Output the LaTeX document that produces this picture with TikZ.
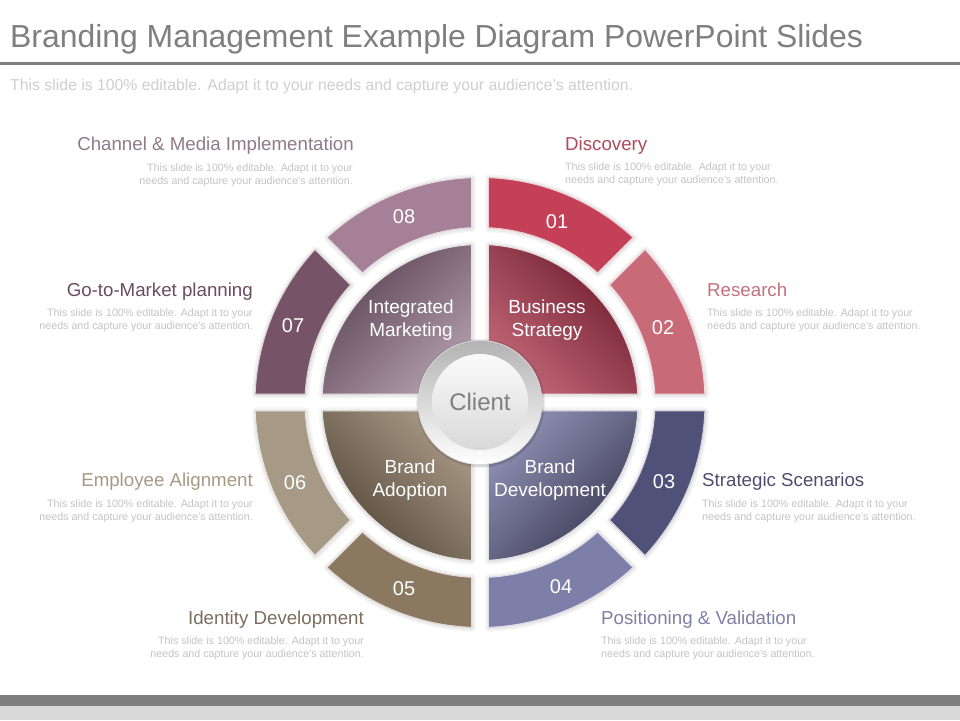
\documentclass[tikz,border=0pt]{standalone}
\usepackage{fontspec}
\setmainfont{Liberation Sans}
\definecolor{barDark}{HTML}{7F7F7F}
\definecolor{barLight}{HTML}{D9D9D9}
\definecolor{subGray}{HTML}{CFCFCF}
\definecolor{descGray}{HTML}{C4C4C4}
\definecolor{segA}{HTML}{C34057}
\definecolor{segB}{HTML}{C96A78}
\definecolor{segC}{HTML}{505179}
\definecolor{segD}{HTML}{7E7FA9}
\definecolor{segE}{HTML}{8A7860}
\definecolor{segF}{HTML}{A69A86}
\definecolor{segG}{HTML}{775367}
\definecolor{segH}{HTML}{A68096}
\definecolor{headA}{HTML}{AE4A5C}
\definecolor{headB}{HTML}{C4707E}
\definecolor{headC}{HTML}{4C4D70}
\definecolor{headD}{HTML}{7F80A6}
\definecolor{headE}{HTML}{7C6E5C}
\definecolor{headF}{HTML}{A69A86}
\definecolor{headG}{HTML}{6A4C5E}
\definecolor{headH}{HTML}{8F7A8A}
\tikzset{
  numlabel/.style={text=white,font=\fontsize{20}{24}\selectfont},
  midlabel/.style={text=white,align=center,font=\fontsize{19}{23}\selectfont},
  headlabel/.style={font=\fontsize{18.7}{22}\selectfont,inner sep=0pt},
  desclabel/.style={text=descGray,font=\fontsize{10.7}{13}\selectfont,inner sep=0pt},
}
% start angle, end angle, inner radius, outer radius, path options
\newcommand{\ringseg}[5]{
  \pgfmathsetmacro{\outA}{#1-asin(8.5/#4)}
  \pgfmathsetmacro{\outB}{#2+asin(8.5/#4)}
  \pgfmathsetmacro{\inA}{#1-asin(8.5/#3)}
  \pgfmathsetmacro{\inB}{#2+asin(8.5/#3)}
  \foreach \Wd in {8,5,2}
  \draw[black,opacity=0.035,line width=\Wd pt,line join=round,shift={(480.5,317)}]
    (\outA:#4) arc[start angle=\outA,end angle=\outB,radius=#4]
    -- (\inB:#3) arc[start angle=\inB,end angle=\inA,radius=#3] -- cycle;
  \path[line width=0.9pt,line join=round,shift={(480,317.5)},#5]
    (\outA:#4) arc[start angle=\outA,end angle=\outB,radius=#4]
    -- (\inB:#3) arc[start angle=\inB,end angle=\inA,radius=#3] -- cycle;
}
\newcommand{\quadseg}[5]{ % start angle, end angle, shading angle, light, dark
  \ringseg{#1}{#2}{13}{158}{draw=white!85!#5,bottom color=#4,top color=#5,shading angle=#3}
}
\begin{document}
\begin{tikzpicture}[x=1pt,y=1pt]
  \useasboundingbox (0,0) rectangle (960,720);
  \fill[white] (0,0) rectangle (960,720);

  % header and footer
  \node[anchor=base west,inner sep=0pt,text=barDark,font=\fontsize{31.9}{36}\selectfont] (title) at (10,672)
    {Branding Management Example Diagram PowerPoint Slides};
  \fill[barDark] (0,655) rectangle (960,657.5);
  \node[anchor=base west,inner sep=0pt,text=subGray,font=\fontsize{15.8}{20}\selectfont] (subtitle) at (10,629)
    {This slide is 100\% editable. Adapt it to your needs and capture your audience's attention.};
  \fill[barLight] (0,0) rectangle (960,14);
  \fill[barDark] (0,14) rectangle (960,25);

  % outer ring
  \foreach \From/\To/\Col in {90/45/segA,45/0/segB,0/-45/segC,-45/-90/segD,-90/-135/segE,-135/-180/segF,-180/-225/segG,-225/-270/segH}
    \ringseg{\From}{\To}{175}{225}{fill=\Col,draw=white!75!\Col};

  % inner quarters
  \definecolor{bizLight}{HTML}{C06676}\definecolor{bizDark}{HTML}{6E1C2E}
  \definecolor{devLight}{HTML}{9090B4}\definecolor{devDark}{HTML}{383852}
  \definecolor{adoLight}{HTML}{A89885}\definecolor{adoDark}{HTML}{524638}
  \definecolor{intLight}{HTML}{B09CAA}\definecolor{intDark}{HTML}{5A4252}
  \quadseg{90}{0}{-45}{bizLight}{bizDark}
  \quadseg{0}{-90}{-135}{devLight}{devDark}
  \quadseg{-90}{-180}{135}{adoLight}{adoDark}
  \quadseg{-180}{-270}{45}{intLight}{intDark}

  % client
  \foreach \Wd in {5,3,1.5}
    \fill[black,opacity=0.06] (480.7,316.6) circle (62+\Wd/2);
  \node[circle,minimum size=124pt,inner sep=0pt,top color=black!30,bottom color=white,draw=white!85!black,line width=0.8pt] (clientring) at (480,317.5) {};
  \node[circle,minimum size=96pt,inner sep=0pt,top color=white!98!black,bottom color=black!15,text=barDark,font=\fontsize{24}{28}\selectfont] (client) at (480,318) {Client};

  % numbers on the ring
  \foreach \Num/\Xpos/\Ypos in {01/557/498.5,02/663/392,03/664/238,04/561/133,05/404/131,06/295/237,07/293/394,08/404/503}
    \node[numlabel] (num\Num) at (\Xpos,\Ypos) {\Num};

  % names on the quarters
  \node[midlabel] (biz) at (547,399.5) {Business\\Strategy};
  \node[midlabel] (integ) at (411,399.5) {Integrated\\Marketing};
  \node[midlabel] (adopt) at (410,239.5) {Brand\\Adoption};
  \node[midlabel] (devel) at (550,239.5) {Brand\\Development};

  % headings, left side hangs from the right edge
  \foreach \Name/\Txt/\Xpos/\Ypos/\Col in {dis/Discovery/565/569.7/headA,res/Research/707/423.7/headB,str/Strategic Scenarios/702/233.7/headC,pos/Positioning \& Validation/601/95.7/headD}
    \node[headlabel,anchor=base west,text=\Col] (\Name) at (\Xpos,\Ypos) {\Txt};
  \foreach \Name/\Txt/\Xpos/\Ypos/\Col in {ide/Identity Development/364/95.7/headE,emp/Employee Alignment/253/233.7/headF,got/Go-to-Market planning/253/423.7/headG,cha/Channel \& Media Implementation/354/569.7/headH}
    \node[headlabel,anchor=base east,text=\Col] (\Name) at (\Xpos,\Ypos) {\Txt};

  % small text under the headings
  \foreach \Name/\Xpos/\Ypos in {dis/565/551,res/707/405,str/702/214,pos/601/77}
    \node[desclabel,anchor=north west,align=left] (\Name txt) at (\Xpos,\Ypos+6.5)
      {This slide is 100\% editable.  Adapt it to your\\needs and capture your audience's attention.};
  \foreach \Name/\Xpos/\Ypos in {ide/364/77,emp/253/214,got/253/405,cha/353/550}
    \node[desclabel,anchor=north east,align=right] (\Name txt) at (\Xpos,\Ypos+6.5)
      {This slide is 100\% editable.  Adapt it to your\\needs and capture your audience's attention.};
\end{tikzpicture}
\end{document}
